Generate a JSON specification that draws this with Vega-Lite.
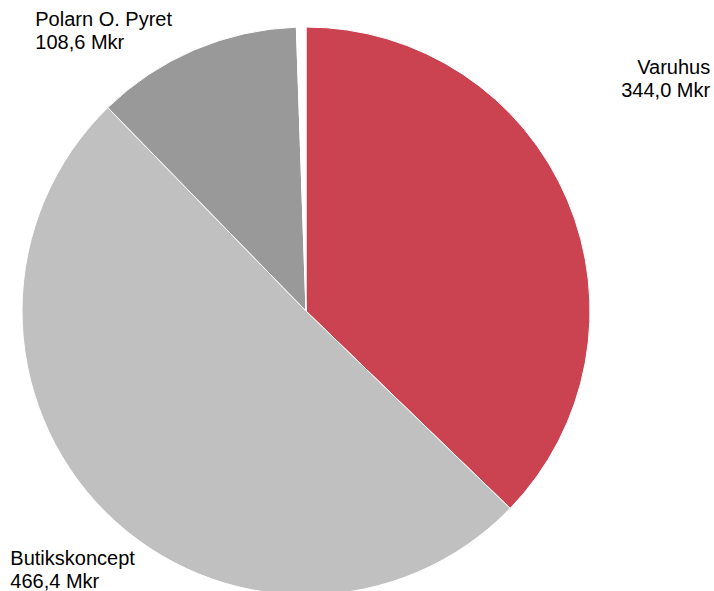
{
  "$schema": "https://vega.github.io/schema/vega-lite/v6.json",
  "width": 612,
  "height": 560,
  "autosize": {"type": "none"},
  "padding": {"left": 0, "top": 31, "right": 102, "bottom": 0},
  "background": "white",
  "config": {"view": {"stroke": null}, "text": {"font": "Liberation Sans"}},
  "data": {
    "values": [
      {"segment": "Varuhus", "value": 344.0, "order": 1, "label": "Varuhus\n344,0 Mkr"},
      {"segment": "Butikskoncept", "value": 466.4, "order": 2, "label": "Butikskoncept\n466,4 Mkr"},
      {"segment": "Polarn O. Pyret", "value": 108.6, "order": 3, "label": "Polarn O. Pyret\n108,6 Mkr"},
      {"segment": "Övrigt", "value": 5.0, "order": 4, "label": ""}
    ]
  },
  "encoding": {
    "theta": {"field": "value", "type": "quantitative", "stack": true},
    "order": {"field": "order", "type": "quantitative"}
  },
  "layer": [
    {
      "mark": {"type": "arc", "radius": 284, "stroke": "white", "strokeWidth": 1},
      "encoding": {
        "color": {
          "field": "segment",
          "type": "nominal",
          "scale": {
            "domain": ["Varuhus", "Butikskoncept", "Polarn O. Pyret", "Övrigt"],
            "range": ["#CB4250", "#C0C0C0", "#999999", "#FFFFFF"]
          },
          "legend": null
        }
      }
    },
    {
      "mark": {"type": "text", "radius": 300, "align": "right", "baseline": "alphabetic", "dx": 128, "dy": -120, "fontSize": 20, "lineHeight": 23, "lineBreak": "\n", "color": "#000000"},
      "encoding": {
        "text": {"field": "label", "type": "nominal"},
        "opacity": {"condition": {"test": "datum.segment === 'Varuhus'", "value": 1}, "value": 0}
      }
    },
    {
      "mark": {"type": "text", "radius": 300, "align": "left", "baseline": "alphabetic", "dx": -84, "dy": 41, "fontSize": 20, "lineHeight": 23, "lineBreak": "\n", "color": "#000000"},
      "encoding": {
        "text": {"field": "label", "type": "nominal"},
        "opacity": {"condition": {"test": "datum.segment === 'Butikskoncept'", "value": 1}, "value": 0}
      }
    },
    {
      "mark": {"type": "text", "radius": 300, "align": "left", "baseline": "alphabetic", "dx": -153, "dy": -9, "fontSize": 20, "lineHeight": 23, "lineBreak": "\n", "color": "#000000"},
      "encoding": {
        "text": {"field": "label", "type": "nominal"},
        "opacity": {"condition": {"test": "datum.segment === 'Polarn O. Pyret'", "value": 1}, "value": 0}
      }
    }
  ]
}
